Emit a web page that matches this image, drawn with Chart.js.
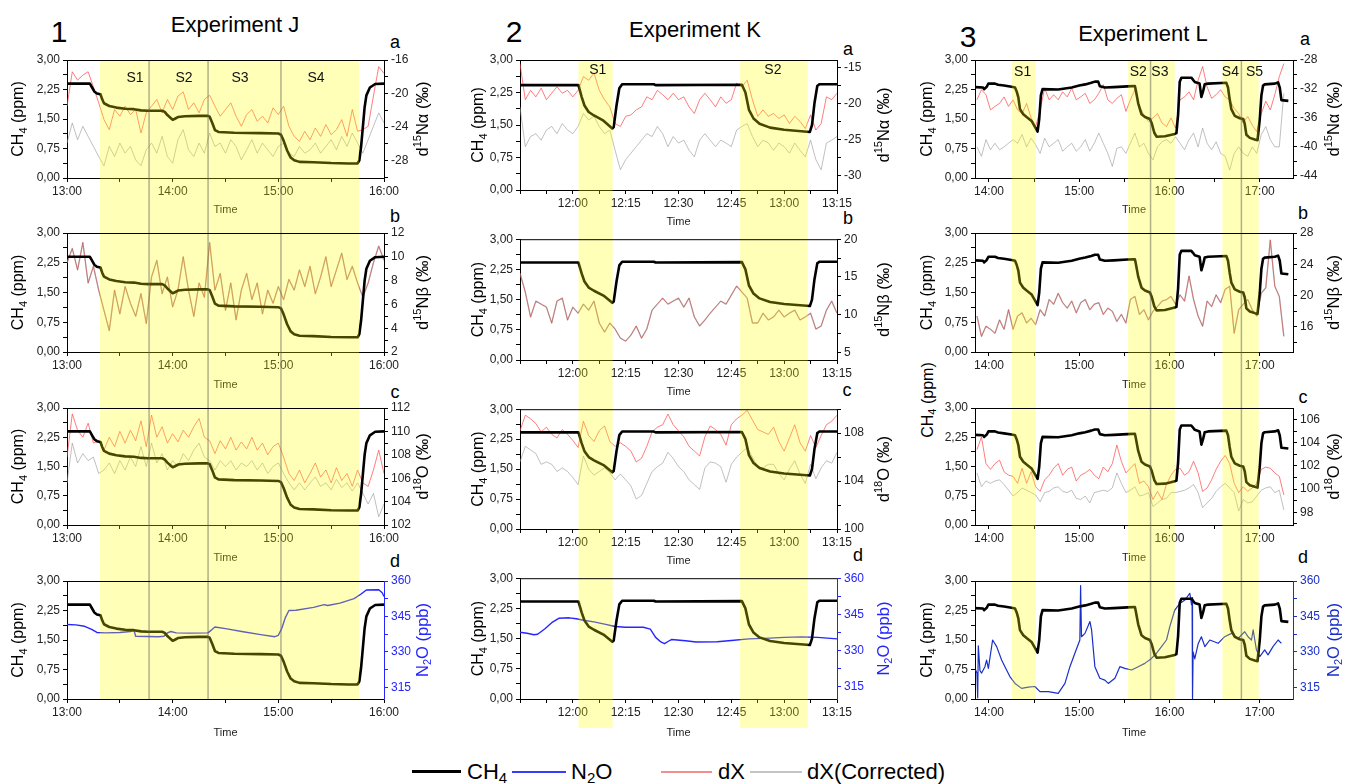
<!DOCTYPE html>
<html>
<head>
<meta charset="utf-8">
<script src="https://cdn.jsdelivr.net/npm/chart.js@4.4.0/dist/chart.umd.min.js"></script>
<style>
html, body { margin: 0; padding: 0; background: #fff; }
body { width: 1348px; height: 784px; position: relative; overflow: hidden; font-family: "Liberation Sans", Arial, sans-serif; color: #000; }
canvas { position: absolute; }
.t { position: absolute; transform: translate(-50%, -50%); white-space: nowrap; line-height: 1; }
.num { font-size: 30px; }
.exp { font-size: 22px; }
.let { font-size: 18px; }
.ax { font-size: 16px; transform: translate(-50%, -50%) rotate(-90deg); }
.ax sub { font-size: 11px; vertical-align: -3px; line-height: 0; }
.lg { position: absolute; top: 760px; height: 24px; font-size: 22px; line-height: 24px; white-space: nowrap; }
.lg sub { font-size: 15px; vertical-align: -4px; line-height: 0; }
.ln { position: absolute; }
</style>
</head>
<body>

<div class="t num" style="left:59px;top:32px">1</div>
<div class="t exp" style="left:235px;top:25px">Experiment J</div>
<div class="t num" style="left:514px;top:32px">2</div>
<div class="t exp" style="left:695px;top:30px">Experiment K</div>
<div class="t num" style="left:968px;top:37px">3</div>
<div class="t exp" style="left:1143px;top:34px">Experiment L</div>

<div class="t let" style="left:395px;top:42px">a</div>
<div class="t let" style="left:395px;top:216px">b</div>
<div class="t let" style="left:395px;top:392px">c</div>
<div class="t let" style="left:395px;top:561px">d</div>
<div class="t let" style="left:848px;top:49px">a</div>
<div class="t let" style="left:848px;top:218px">b</div>
<div class="t let" style="left:847px;top:390px">c</div>
<div class="t let" style="left:858px;top:555px">d</div>
<div class="t let" style="left:1305px;top:39px">a</div>
<div class="t let" style="left:1303px;top:213px">b</div>
<div class="t let" style="left:1303px;top:397px">c</div>
<div class="t let" style="left:1303px;top:557px">d</div>

<div class="t ax" style="left:928px;top:400px">CH<sub>4</sub> (ppm)</div>

<div class="ln" style="left:412px;top:770px;width:49px;height:3px;background:#000"></div>
<div class="lg" style="left:467px">CH<sub>4</sub></div>
<div class="ln" style="left:512px;top:771px;width:54px;height:1.5px;background:#3b3bff"></div>
<div class="lg" style="left:571px">N<sub>2</sub>O</div>
<div class="ln" style="left:661px;top:771px;width:51px;height:1.5px;background:#f09090"></div>
<div class="lg" style="left:718px">dX</div>
<div class="ln" style="left:750px;top:771px;width:52px;height:1.5px;background:#c4c4c4"></div>
<div class="lg" style="left:807px">dX(Corrected)</div>

<script>
// ---------- Experiment J ----------
const timeJ = [780,783,786,789,792,795,798,801,804,807,810,813,816,819,822,825,828,831,834,837,840,843,846,849,852,855,858,861,864,867,870,873,876,879,882,885,888,891,894,897,900,903,906,909,912,915,918,921,924,927,930,933,936,939,942,945,948,951,954,957,960];
const ch4TimeJ = [780,793,794,795.5,797,799,800,801,804,808,813,818,822,826,834,835.5,837,839,840,841,843,847,855,860,861,862.5,864,866,875,890,900,901.5,903,905,907,909,912,920,930,940,945,946,947,948,949,950,952,955,960];
const ch4J = [2.40,2.40,2.32,2.20,2.15,2.13,2.00,1.90,1.83,1.79,1.76,1.75,1.72,1.71,1.71,1.68,1.60,1.52,1.48,1.50,1.55,1.57,1.58,1.58,1.56,1.40,1.22,1.17,1.15,1.14,1.13,1.10,0.95,0.70,0.52,0.45,0.41,0.40,0.38,0.37,0.37,0.45,0.80,1.30,1.80,2.10,2.30,2.39,2.40];
const dNaJ = [-21.5,-17.4,-18.4,-17.8,-17.4,-19.2,-21.1,-23.1,-24.3,-21.9,-22.7,-21.5,-22.5,-21.9,-24.7,-22.3,-21.5,-20.7,-22.3,-20.7,-21.9,-20.3,-19.8,-21.9,-21.1,-22.3,-20.7,-20.2,-21.5,-22.7,-21.9,-21.1,-22.7,-23.9,-22.5,-21.9,-23.3,-22.7,-23.5,-21.7,-22.5,-21.5,-23.9,-25.1,-25.7,-24.5,-25.5,-24.1,-25.1,-23.7,-24.9,-24.3,-23.1,-25.1,-21.9,-24.5,-24.3,-23.9,-20.3,-16.8,-17.6];
const dNaCorrJ = [-25.9,-23.5,-25.5,-23.9,-25.1,-26.3,-27.5,-28.6,-26.3,-27.5,-25.9,-27.1,-26.3,-27.9,-28.6,-26.7,-25.9,-27.1,-25.1,-27.5,-28.3,-25.5,-24.3,-26.7,-27.5,-25.9,-27.1,-24.7,-26.3,-25.9,-27.1,-25.5,-26.3,-27.9,-26.7,-25.5,-27.1,-25.9,-26.7,-27.5,-26.3,-25.9,-27.1,-27.5,-26.3,-27.1,-26.7,-25.9,-27.1,-26.3,-25.5,-26.7,-25.1,-26.3,-24.7,-25.9,-27.1,-25.5,-23.9,-22.3,-23.5];
const dNbJ = [9.5,10.7,8.9,11.2,7.8,9.2,7.2,5.5,3.8,7.2,5.2,7.5,6.1,5.0,6.9,4.4,8.3,9.7,6.9,8.3,5.8,7.2,10.0,7.2,5.0,7.8,6.6,11.2,7.2,8.6,5.5,7.8,4.7,7.2,8.6,6.4,7.8,5.2,7.2,6.1,7.5,6.4,8.1,7.2,8.9,7.5,9.2,6.9,8.3,10.0,7.5,8.9,10.3,8.1,9.2,7.8,6.6,7.8,9.5,10.9,9.7];
const d18OJ = [107.8,111.5,110.1,109.5,110.7,109.0,109.2,108.4,109.5,108.7,110.0,109.0,110.1,109.2,110.9,108.7,111.4,109.5,110.4,109.0,109.8,109.1,110.1,109.5,110.4,111.1,109.5,109.2,108.1,109.2,108.5,109.5,108.4,109.1,108.5,109.5,108.4,109.0,108.0,108.7,109.0,107.8,106.4,105.8,106.7,105.6,106.4,107.3,106.1,106.7,105.6,106.9,105.8,106.4,105.3,106.7,105.6,105.3,106.7,108.4,106.4];
const d18OCorrJ = [105.6,109.0,107.3,108.1,107.5,107.8,106.4,106.7,107.3,106.4,107.5,106.7,107.8,107.0,108.7,107.0,109.0,107.3,108.1,106.7,107.5,107.0,108.1,107.5,108.4,109.0,107.8,107.5,106.7,107.5,107.0,107.5,106.7,107.3,107.0,107.5,106.7,107.3,106.4,107.0,107.3,106.4,105.6,105.0,105.6,105.0,105.6,106.1,105.3,105.6,105.0,105.9,105.2,105.6,104.9,105.6,104.7,103.8,104.7,102.7,103.8];
const n2oTimeJ = [780,785,790,794,797,802,810,816,818,819,825,832,835,837,839,842,850,860,862,864,870,880,890,898,900,902,904,906,910,920,926,928,935,943,947,950,957,959,960];
const n2oJ = [341.6,341.4,340.8,339.5,338.2,338.0,338.2,338.6,339.2,336.6,336.5,336.4,336.6,338.0,338.6,338.0,337.9,338.0,339.2,340.5,339.8,338.5,337.3,336.4,337.0,340.0,344.5,347.5,347.6,348.8,350.0,349.6,350.6,352.5,354.5,356.2,356.3,355.0,353.4];
const bandsJ = [[798.7, 945.8]];
const linesJ = [826.6, 860.1, 901.5];
const stagesJ = ['S1', 'S2', 'S3', 'S4'];
const stageTimesJ = [818.6, 846.4, 878.2, 921.4];

// ---------- Experiment K ----------
const timeK = [705,706.5,708,709.5,711,712.5,714,715.5,717,718.5,720,721.5,723,724.5,726,727.5,729,730.5,732,733.5,735,736.5,738,739.5,741,742.5,744,745.5,747,748.5,750,751.5,753,754.5,756,757.5,759,760.5,762,763.5,765,766.5,768,769.5,771,772.5,774,775.5,777,778.5,780,781.5,783,784.5,786,787.5,789,790.5,792,793.5,795];
const ch4TimeK = [705,721.6,722.5,723.3,724.5,726,728.7,731.2,731.6,732.4,733.2,734,743,743.5,768,769,770,771.3,773,776,780,787.3,787.9,788.6,789.4,790,795];
const ch4K = [2.42,2.42,2.15,1.95,1.80,1.72,1.60,1.42,1.45,1.95,2.35,2.44,2.44,2.42,2.43,2.25,1.85,1.65,1.53,1.44,1.39,1.34,1.50,2.00,2.40,2.44,2.44];
const dNaK = [-14.5,-19.5,-18.2,-19.1,-17.9,-19.5,-18.6,-17.7,-18.6,-18.2,-19.1,-18.2,-16.3,-16.8,-15.8,-18.2,-19.5,-20.5,-22.8,-23.2,-21.8,-21.6,-20.9,-20.5,-19.1,-19.5,-18.2,-18.8,-19.5,-18.6,-19.5,-19.1,-20.5,-21.4,-19.5,-18.6,-19.5,-20.5,-19.1,-20.0,-19.5,-17.2,-17.7,-16.8,-19.5,-21.8,-20.9,-21.8,-21.4,-22.1,-21.6,-22.8,-21.8,-22.5,-23.5,-21.6,-23.7,-22.8,-19.1,-19.5,-18.6];
const dNaCorrK = [-20.5,-26.0,-24.6,-24.2,-25.1,-23.7,-23.2,-24.2,-22.8,-23.7,-24.2,-23.2,-21.4,-22.3,-21.8,-23.2,-24.2,-23.7,-26.5,-29.2,-27.8,-26.9,-26.0,-25.1,-24.2,-24.6,-23.2,-24.2,-26.0,-24.6,-25.5,-25.1,-26.5,-27.4,-25.1,-24.2,-25.1,-26.0,-25.1,-25.5,-26.0,-23.7,-23.2,-22.8,-24.6,-26.0,-25.1,-25.5,-26.5,-25.5,-26.0,-26.9,-25.5,-26.5,-27.4,-25.1,-27.8,-29.2,-25.5,-25.1,-24.6];
const dNbK = [15.5,13.0,9.7,11.8,11.4,11.0,8.9,11.8,12.2,9.3,11.0,10.2,11.4,10.6,11.8,8.9,7.7,8.9,8.1,6.9,6.5,7.3,8.5,6.9,8.1,10.6,11.4,12.2,11.4,11.8,12.2,11.0,12.2,9.7,8.5,9.3,10.2,11.0,11.8,11.4,12.6,13.8,13.0,12.2,8.9,8.9,10.2,9.3,9.7,10.6,9.7,10.2,10.6,9.3,9.7,10.2,8.1,8.5,10.6,11.8,10.2];
const d18OK = [108.2,109.5,109.2,108.8,108.1,108.5,107.9,107.6,108.3,107.9,107.4,106.8,109.0,107.8,107.3,108.2,108.6,107.3,106.9,107.2,106.9,106.5,105.6,105.9,106.9,108.1,108.5,108.7,109.6,108.7,108.2,107.7,106.9,106.5,106.1,107.7,108.6,108.3,107.9,107.0,108.7,109.2,109.5,109.9,109.1,108.3,108.1,107.9,108.5,107.3,106.5,107.6,108.7,107.2,106.5,107.8,106.8,107.8,108.7,109.0,109.5];
const d18OCorrK = [105.6,106.9,106.6,106.3,105.4,105.6,105.4,104.8,105.1,104.8,104.3,103.7,106.1,105.0,104.5,104.8,105.1,104.7,104.1,104.6,104.1,103.6,102.5,102.8,103.8,104.8,105.2,105.5,106.4,105.9,105.2,104.8,104.1,103.7,103.3,105.1,105.6,105.5,105.2,103.9,105.4,106.0,106.4,106.8,106.0,105.2,105.1,105.4,105.4,104.6,104.1,105.0,105.7,104.6,103.8,105.4,104.2,105.1,105.7,105.5,106.4];
const n2oTimeK = [705,707,709,710,712,714,716,719,721,723,726,729,732,735,740,742,743.5,745,746,747,748,752,755,761,765,770,776,780,785,789.5,795];
const n2oK = [337.6,337.2,336.6,336.8,339.0,341.6,343.4,343.6,343.2,342.6,341.9,341.0,340.0,339.7,339.7,338.9,335.5,333.6,332.9,333.8,334.6,334.1,333.6,333.7,334.2,334.9,335.2,335.5,335.7,335.5,334.9];
const bandsK = [[721.6, 731.3], [767.5, 786.7]];
const linesK = [];
const stagesK = ['S1', 'S2'];
const stageTimesK = [727.1, 776.8];

// ---------- Experiment L ----------
const timeL = [832,835,838,841,844,847,850,853,856,859,862,865,868,871,874,877,880,883,886,889,892,895,898,901,904,907,910,913,916,919,922,925,928,931,934,937,940,943,946,949,952,955,958,961,964,967,970,973,976,979,982,985,988,991,994,997,1000,1003,1006,1009,1012,1015,1018,1021,1024,1027,1030,1033,1036];
const ch4TimeL = [830.7,836,836.8,838.5,839.6,844,846,850,855,857.3,858.4,859.5,860.6,862.8,865,868.3,872.3,873.4,874.5,875.6,886,895,900,904,908,910.4,912.6,913.7,917,923,932,937,937.5,939.2,941.4,943.7,947,948.1,949.9,951.4,957,963.5,964.6,965.7,966.8,967.9,974.5,975.6,976.8,980,981.2,982.3,983.4,985.7,997.8,998.9,1000,1001.1,1003.4,1006.7,1009,1010,1011.1,1013.4,1016.7,1018.5,1020,1021.1,1022.2,1023.3,1030,1032.2,1033.3,1034.4,1039];
const ch4L = [2.31,2.30,2.26,2.32,2.40,2.40,2.37,2.35,2.32,2.30,2.20,2.05,1.75,1.62,1.55,1.45,1.18,1.50,2.10,2.26,2.25,2.30,2.35,2.38,2.42,2.45,2.45,2.33,2.30,2.31,2.33,2.34,2.25,1.90,1.62,1.55,1.50,1.40,1.15,1.05,1.06,1.12,1.14,1.60,2.45,2.55,2.55,2.50,2.44,2.40,2.06,2.20,2.38,2.40,2.42,2.30,2.00,1.75,1.58,1.52,1.50,1.38,1.10,1.02,0.98,0.96,1.50,2.10,2.35,2.38,2.40,2.43,2.30,1.98,1.96];
const dNaL = [-33.5,-32.1,-32.8,-34.9,-34.4,-34.0,-33.1,-34.4,-33.5,-34.9,-35.4,-34.0,-36.0,-37.2,-34.9,-31.9,-33.5,-32.8,-33.5,-32.4,-33.1,-31.9,-33.5,-33.1,-32.6,-34.0,-33.5,-32.6,-31.4,-33.5,-34.0,-33.3,-32.8,-35.1,-33.5,-32.1,-34.4,-35.6,-36.5,-36.0,-35.4,-36.7,-37.2,-36.0,-37.4,-33.5,-33.1,-32.4,-33.5,-30.8,-28.9,-31.7,-33.3,-32.8,-32.1,-33.1,-33.5,-34.7,-35.4,-36.7,-35.8,-37.0,-37.9,-35.4,-33.7,-34.9,-32.8,-30.3,-28.5];
const dNaCorrL = [-40.0,-41.3,-39.0,-40.4,-39.5,-40.4,-40.0,-39.5,-39.0,-39.5,-38.3,-40.0,-38.8,-39.7,-40.9,-38.8,-40.0,-39.5,-39.0,-40.6,-40.0,-39.5,-40.6,-40.0,-39.0,-40.6,-39.5,-38.1,-39.5,-40.9,-42.7,-40.2,-40.0,-40.9,-39.5,-38.1,-40.0,-39.5,-40.9,-41.8,-40.0,-39.3,-39.0,-39.5,-38.6,-39.5,-40.4,-39.0,-38.1,-40.0,-37.4,-39.5,-40.4,-39.3,-40.9,-41.3,-43.2,-40.9,-40.0,-40.9,-41.3,-40.0,-40.9,-38.3,-37.2,-39.0,-40.0,-40.0,-32.6];
const dNbL = [17.4,14.8,16.1,15.7,15.2,16.9,15.7,18.2,15.7,17.4,17.8,16.5,17.1,16.3,18.2,17.4,19.5,18.9,20.3,19.1,18.4,19.3,17.8,19.1,19.5,18.2,18.9,19.1,17.6,18.4,18.0,16.7,17.6,16.5,19.5,19.9,17.6,18.2,16.9,18.0,18.6,19.3,19.5,19.9,18.9,20.1,19.3,22.5,19.5,17.4,16.1,19.3,18.6,20.1,19.1,20.8,21.2,15.2,18.2,18.9,19.5,18.2,17.4,20.3,21.0,27.1,21.2,19.9,14.8];
const d18OL = [103.4,104.5,102.2,101.7,102.2,102.5,101.5,101.2,101.1,100.5,101.8,100.5,101.5,100.2,99.8,100.8,101.2,101.8,102.2,101.2,101.7,101.9,100.7,101.2,101.4,101.7,101.2,100.9,101.9,101.5,102.2,103.8,102.4,101.4,101.8,102.2,100.5,100.7,100.2,99.1,99.8,99.1,100.4,101.2,101.7,101.8,101.2,101.5,102.4,101.4,99.8,100.1,100.8,101.7,102.4,102.9,102.2,100.5,99.7,100.2,99.8,100.1,100.5,101.7,101.9,101.8,101.4,101.1,99.5];
const d18OCorrL = [101.4,100.2,100.7,100.5,100.7,100.8,100.4,99.9,99.4,99.7,100.1,99.9,99.7,99.5,98.9,99.7,99.8,100.1,100.2,99.8,99.7,99.9,99.2,99.1,99.4,98.8,99.7,99.8,99.9,99.8,100.1,101.4,100.5,99.7,99.9,100.2,99.4,99.5,99.7,98.5,98.8,99.1,99.2,99.7,99.7,99.8,99.9,100.1,100.4,99.7,98.4,98.8,99.2,99.8,100.2,100.5,100.1,99.7,98.1,99.1,98.8,98.9,99.4,99.9,100.1,100.2,99.7,99.9,98.2];
const n2oTimeL = [831.1,832.0,832.5,832.9,834.0,835.1,837.3,838.4,839.6,842.4,845.1,848.4,850.6,853.9,857.3,861.7,866.1,870.5,873.9,879.4,886.0,890.5,893.8,897.1,900.4,900.9,901.5,903.8,907.1,908.2,910.4,913.7,917.0,919.3,923.7,927.0,930.3,934.8,939.2,943.6,948.0,951.4,954.7,958.0,960.2,963.5,966.9,970.2,973.5,974.2,974.6,975.0,975.3,975.7,976.8,979.0,981.2,983.5,986.8,992.3,996.7,1001.2,1005.6,1010.0,1012.2,1014.5,1015.6,1017.8,1020.0,1023.3,1025.5,1028.8,1032.2,1034.4];
const n2oL = [322.3,321.0,310.5,332.5,322.0,321.0,323.7,326.5,323.0,335.0,332.2,326.5,323.7,319.5,316.6,314.5,315.0,315.3,313.1,313.1,312.4,316.6,323.7,329.4,335.0,358.0,336.4,337.8,342.8,339.3,323.7,318.8,318.0,316.6,318.8,323.7,323.0,322.3,323.7,325.1,327.2,329.4,332.2,335.0,340.7,347.7,350.5,351.9,354.8,352.0,350.0,353.0,310.0,330.0,327.0,333.3,336.4,332.2,335.0,333.6,336.4,337.8,335.7,338.5,336.4,335.0,339.3,330.8,328.0,330.8,328.7,332.2,335.0,333.6];
const bandsL = [[855.1, 871.2], [932.5, 963.5], [995.2, 1019.3]];
const linesL = [947.4, 1007.8];
const stagesL = ['S1', 'S2', 'S3', 'S4', 'S5'];
const stageTimesL = [862.4, 939.2, 953.6, 1000.5, 1016.5];

// ---------- axis tick lists ----------
const ch4Ticks = [0, 0.375, 0.75, 1.125, 1.5, 1.875, 2.25, 2.625, 3];
const ch4Labels = [0, 0.75, 1.5, 2.25, 3];

const FONT = '"Liberation Sans", Arial, sans-serif';
const BAND = 'rgba(255,255,0,0.28)';
const RED = 'rgba(255,70,70,0.7)';
const GREY = 'rgba(150,150,150,0.6)';
const BLUE = '#2525ff';
const BLUE_L = '#1a2fc8';

Chart.defaults.font.family = FONT;
Chart.defaults.color = '#222';

function hhmm(v) {
    const h = Math.floor(v / 60 + 1e-9);
    const m = Math.round(v - h * 60);
    return h + ':' + String(m).padStart(2, '0');
}
function pts(xs, ys) { return xs.map((x, i) => ({x: x, y: ys[i]})); }

function drawRich(ctx, parts, x, y, size, color) {
    ctx.save();
    ctx.translate(x, y);
    ctx.rotate(-Math.PI / 2);
    const fonts = parts.map(p => (p[1] ? Math.round(size * 0.68) : size) + 'px ' + FONT);
    const widths = parts.map((p, i) => { ctx.font = fonts[i]; return ctx.measureText(p[0]).width; });
    let cx = -widths.reduce((s, w) => s + w, 0) / 2;
    ctx.fillStyle = color;
    ctx.textBaseline = 'middle';
    ctx.textAlign = 'left';
    parts.forEach((p, i) => {
        ctx.font = fonts[i];
        const dy = p[1] === 1 ? size * 0.3 : (p[1] === 2 ? -size * 0.32 : 0);
        ctx.fillText(p[0], cx, dy);
        cx += widths[i];
    });
    ctx.restore();
}

const decoPlugin = {
    id: 'deco',
    afterDatasetsDraw(chart) {
        const p = chart.canvas.spec, ctx = chart.ctx, a = chart.chartArea, xs = chart.scales.x;
        const top = Math.max(0, p.bandTop - p.top);
        const bottom = Math.min(chart.height, p.bandBottom - p.top);
        ctx.save();
        ctx.fillStyle = BAND;
        p.bands.forEach(b => {
            const x0 = xs.getPixelForValue(b[0]), x1 = xs.getPixelForValue(b[1]);
            ctx.fillRect(x0, top, x1 - x0, bottom - top);
        });
        ctx.strokeStyle = 'rgba(100,100,90,0.5)';
        ctx.lineWidth = 1.5;
        p.lines.forEach(v => {
            const x = xs.getPixelForValue(v);
            ctx.beginPath(); ctx.moveTo(x, top); ctx.lineTo(x, bottom); ctx.stroke();
        });
        // top frame
        ctx.strokeStyle = '#000';
        ctx.lineWidth = 1;
        ctx.beginPath(); ctx.moveTo(a.left, a.top + 0.5); ctx.lineTo(a.right, a.top + 0.5); ctx.stroke();
        // stage names
        if (p.stages) {
            ctx.font = '14px ' + FONT;
            ctx.fillStyle = '#111';
            ctx.textAlign = 'center';
            ctx.textBaseline = 'middle';
            p.stages.forEach((s, i) => ctx.fillText(s, xs.getPixelForValue(p.stageTimes[i]), a.top + p.stageDy));
        }
        const mid = (a.top + a.bottom) / 2;
        if (!p.noLeftTitle) {
            drawRich(ctx, [['CH', 0], ['4', 1], [' (ppm)', 0]], a.left - p.leftTitleX, mid, 16, '#000');
        }
        drawRich(ctx, p.rightTitle, a.right + p.rightTitleX, mid, 16.5, p.rightColor);
        ctx.restore();
    }
};

function addPanel(col, row, spec) {
    const cv = document.createElement('canvas');
    cv.width = col.w;
    cv.height = row.h;
    cv.style.left = col.x0 + 'px';
    cv.style.top = row.top + 'px';
    cv.spec = Object.assign({
        top: row.top, bandTop: col.bandTop, bandBottom: col.bandBottom,
        bands: col.bands, lines: col.lines,
        leftTitleX: col.leftTitleX, rightTitleX: col.rightTitleX
    }, spec);
    document.body.appendChild(cv);
    const r = spec.right;
    const rc = spec.rightColor;
    new Chart(cv.getContext('2d'), {
        type: 'line',
        data: {datasets: spec.datasets},
        plugins: [decoPlugin],
        options: {
            responsive: false,
            animation: false,
            devicePixelRatio: 1,
            layout: {padding: {top: row.pad, left: 0, right: 0, bottom: 0}},
            plugins: {legend: {display: false}, tooltip: {enabled: false}},
            elements: {point: {radius: 0}, line: {tension: 0, borderJoinStyle: 'round'}},
            scales: {
                x: {
                    type: 'linear', min: col.xMin, max: col.xMax, bounds: 'data',
                    afterBuildTicks: s => { s.ticks = col.xTicks.map(v => ({value: v})); },
                    afterFit: s => { s.height = row.xBox; },
                    ticks: {autoSkip: false, maxRotation: 0, padding: 2, color: '#222', font: {size: 12},
                        callback: v => col.xLabels.includes(v) ? hhmm(v) : ''},
                    grid: {drawOnChartArea: false, tickLength: 4, color: '#000'},
                    border: {color: '#000'},
                    title: {display: true, text: 'Time', font: {size: 11}, color: '#222', padding: 0}
                },
                y: {
                    position: 'left', min: 0, max: 3, bounds: 'data',
                    afterBuildTicks: s => { s.ticks = ch4Ticks.map(v => ({value: v})); },
                    afterFit: s => { s.width = col.leftW; },
                    ticks: {autoSkip: false, padding: 3, color: '#222', font: {size: 12},
                        callback: v => ch4Labels.includes(v) ? v.toFixed(2).replace('.', ',') : ''},
                    grid: {drawOnChartArea: false, tickLength: 4, color: '#000'},
                    border: {color: '#000'}
                },
                y2: {
                    position: 'right', min: r.min, max: r.max, bounds: 'data',
                    afterBuildTicks: s => { s.ticks = r.major.concat(r.minor).sort((p, q) => p - q).map(v => ({value: v})); },
                    afterFit: s => { s.width = col.rightW; },
                    ticks: {autoSkip: false, padding: 3, color: rc === '#000' ? '#222' : rc, font: {size: 12},
                        callback: v => r.major.includes(v) ? String(v) : ''},
                    grid: {drawOnChartArea: false, tickLength: 4, color: rc},
                    border: {color: rc}
                }
            }
        }
    });
}

function ch4Set(t, v) {
    return {data: pts(t, v), yAxisID: 'y', borderColor: '#000', borderWidth: 2.6};
}
function lineSet(t, v, color, w) {
    return {data: pts(t, v), yAxisID: 'y2', borderColor: color, borderWidth: w};
}

const TITLE_A = [['d', 0], ['15', 2], ['N\u03b1 (\u2030)', 0]];
const TITLE_B = [['d', 0], ['15', 2], ['N\u03b2 (\u2030)', 0]];
const TITLE_C = [['d', 0], ['18', 2], ['O (\u2030)', 0]];
const TITLE_D = [['N', 0], ['2', 1], ['O (ppb)', 0]];
const N2O_AXIS = {min: 310, max: 360, major: [315, 330, 345, 360], minor: [322.5, 337.5, 352.5]};

const rowsJL = [
    {top: 40, h: 177, pad: 20, xBox: 39},
    {top: 217, h: 175, pad: 16, xBox: 40},
    {top: 392, h: 173, pad: 16, xBox: 40},
    {top: 565, h: 175, pad: 16, xBox: 41}
];
const rowsK = [
    {top: 40, h: 189, pad: 20, xBox: 39},
    {top: 229, h: 170, pad: 1, xBox: 39},
    {top: 399, h: 169, pad: 1, xBox: 39},
    {top: 568, h: 172, pad: 1, xBox: 41}
];

const colJ = {x0: 0, w: 450, leftW: 67, rightW: 66, xMin: 780, xMax: 960,
    xTicks: [780, 810, 840, 870, 900, 930, 960], xLabels: [780, 840, 900, 960],
    bands: bandsJ, lines: linesJ, bandTop: 60, bandBottom: 699, leftTitleX: 48, rightTitleX: 39};
const colK = {x0: 450, w: 450, leftW: 70, rightW: 63, xMin: 705, xMax: 795,
    xTicks: [705, 712.5, 720, 727.5, 735, 742.5, 750, 757.5, 765, 772.5, 780, 787.5, 795], xLabels: [720, 735, 750, 765, 780, 795],
    bands: bandsK, lines: linesK, bandTop: 60, bandBottom: 728, leftTitleX: 41, rightTitleX: 47};
const colL = {x0: 900, w: 448, leftW: 75, rightW: 55, xMin: 830.7, xMax: 1042.1,
    xTicks: [840, 870, 900, 930, 960, 990, 1020], xLabels: [840, 900, 960, 1020],
    bands: bandsL, lines: linesL, bandTop: 60, bandBottom: 699, leftTitleX: 47, rightTitleX: 41};

// Experiment J
addPanel(colJ, rowsJL[0], {
    right: {min: -30.06, max: -16, major: [-28, -24, -20, -16], minor: [-30, -26, -22, -18]},
    rightColor: '#000', rightTitle: TITLE_A, stages: stagesJ, stageTimes: stageTimesJ, stageDy: 18,
    datasets: [ch4Set(ch4TimeJ, ch4J), lineSet(timeJ, dNaJ, RED, 1), lineSet(timeJ, dNaCorrJ, GREY, 1)]
});
addPanel(colJ, rowsJL[1], {
    right: {min: 2, max: 12, major: [2, 4, 6, 8, 10, 12], minor: [3, 5, 7, 9, 11]},
    rightColor: '#000', rightTitle: TITLE_B,
    datasets: [ch4Set(ch4TimeJ, ch4J), lineSet(timeJ, dNbJ, 'rgba(210,60,60,0.55)', 1), lineSet(timeJ, dNbJ, GREY, 1.4)]
});
addPanel(colJ, rowsJL[2], {
    right: {min: 102, max: 112, major: [102, 104, 106, 108, 110, 112], minor: [103, 105, 107, 109, 111]},
    rightColor: '#000', rightTitle: TITLE_C,
    datasets: [ch4Set(ch4TimeJ, ch4J), lineSet(timeJ, d18OJ, RED, 1), lineSet(timeJ, d18OCorrJ, GREY, 1)]
});
addPanel(colJ, rowsJL[3], {
    right: N2O_AXIS, rightColor: BLUE, rightTitle: TITLE_D,
    datasets: [ch4Set(ch4TimeJ, ch4J), lineSet(n2oTimeJ, n2oJ, BLUE, 1.4)]
});

// Experiment K
addPanel(colK, rowsK[0], {
    right: {min: -32, max: -14, major: [-30, -25, -20, -15], minor: [-27.5, -22.5, -17.5]},
    rightColor: '#000', rightTitle: TITLE_A, stages: stagesK, stageTimes: stageTimesK, stageDy: 10,
    datasets: [ch4Set(ch4TimeK, ch4K), lineSet(timeK, dNaK, RED, 1), lineSet(timeK, dNaCorrK, GREY, 1)]
});
addPanel(colK, rowsK[1], {
    right: {min: 4, max: 20, major: [5, 10, 15, 20], minor: [7.5, 12.5, 17.5]},
    rightColor: '#000', rightTitle: TITLE_B,
    datasets: [ch4Set(ch4TimeK, ch4K), lineSet(timeK, dNbK, 'rgba(210,60,60,0.55)', 1), lineSet(timeK, dNbK, GREY, 1.4)]
});
addPanel(colK, rowsK[2], {
    right: {min: 100, max: 110, major: [100, 104, 108], minor: [102, 106, 110]},
    rightColor: '#000', rightTitle: TITLE_C,
    datasets: [ch4Set(ch4TimeK, ch4K), lineSet(timeK, d18OK, RED, 1), lineSet(timeK, d18OCorrK, GREY, 1)]
});
addPanel(colK, rowsK[3], {
    right: N2O_AXIS, rightColor: BLUE, rightTitle: TITLE_D,
    datasets: [ch4Set(ch4TimeK, ch4K), lineSet(n2oTimeK, n2oK, BLUE, 1.4)]
});

// Experiment L
addPanel(colL, rowsJL[0], {
    right: {min: -44.3, max: -28, major: [-44, -40, -36, -32, -28], minor: [-42, -38, -34, -30]},
    rightColor: '#000', rightTitle: TITLE_A, stages: stagesL, stageTimes: stageTimesL, stageDy: 12,
    datasets: [ch4Set(ch4TimeL, ch4L), lineSet(timeL, dNaL, RED, 1), lineSet(timeL, dNaCorrL, GREY, 1)]
});
addPanel(colL, rowsJL[1], {
    right: {min: 12.8, max: 28, major: [16, 20, 24, 28], minor: [14, 18, 22, 26]},
    rightColor: '#000', rightTitle: TITLE_B,
    datasets: [ch4Set(ch4TimeL, ch4L), lineSet(timeL, dNbL, 'rgba(210,60,60,0.55)', 1), lineSet(timeL, dNbL, GREY, 1.4)]
});
addPanel(colL, rowsJL[2], {
    right: {min: 96.9, max: 107, major: [98, 100, 102, 104, 106], minor: [97, 99, 101, 103, 105]},
    rightColor: '#000', rightTitle: TITLE_C, noLeftTitle: true,
    datasets: [ch4Set(ch4TimeL, ch4L), lineSet(timeL, d18OL, RED, 1), lineSet(timeL, d18OCorrL, GREY, 1)]
});
addPanel(colL, rowsJL[3], {
    right: N2O_AXIS, rightColor: BLUE_L, rightTitle: TITLE_D,
    datasets: [ch4Set(ch4TimeL, ch4L), lineSet(n2oTimeL, n2oL, BLUE_L, 1.2)]
});
</script>
</body>
</html>
